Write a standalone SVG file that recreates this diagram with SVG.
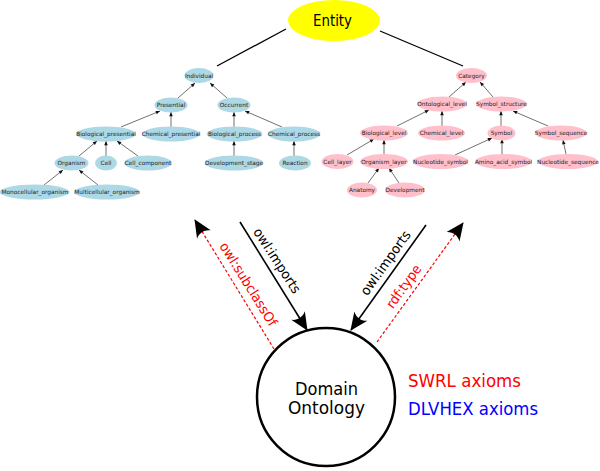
<svg xmlns="http://www.w3.org/2000/svg" width="600" height="471" viewBox="0 0 600 471">
<style>
.b{fill:#add8e6}
.p{fill:#ffc0cb}
.t{font-family:"DejaVu Sans","Liberation Sans",sans-serif;font-size:5.8px;fill:#222;text-anchor:middle}
.e{stroke:#333;stroke-width:0.7;fill:none;marker-end:url(#sm)}
.big{font-family:"DejaVu Sans","Liberation Sans",sans-serif;fill:#000}
.lbl{font-family:"DejaVu Sans","Liberation Sans",sans-serif;font-size:13.5px;text-anchor:middle;dominant-baseline:central}
</style>
<defs>
<marker id="sm" viewBox="-5 -3 6 6" refX="0" refY="0" markerWidth="6" markerHeight="6" markerUnits="userSpaceOnUse" orient="auto">
<path d="M0,0 L-4.2,-1.8 L-4.2,1.8 Z" fill="#111"/>
</marker>
<marker id="bg" viewBox="-20 -10 22 20" refX="0" refY="0" markerWidth="22" markerHeight="20" markerUnits="userSpaceOnUse" orient="auto">
<path d="M1,0 L-17,-8 C-13,-3 -13,3 -17,8 Z" fill="#000"/>
</marker>
</defs>

<g id="connectors">
<line x1="286" y1="29" x2="217" y2="66" stroke="#000" stroke-width="1.3"/>
<line x1="380" y1="31" x2="463" y2="66" stroke="#000" stroke-width="1.3"/>
<!-- left tree -->
<line class="e" x1="178" y1="98" x2="195" y2="83"/>
<line class="e" x1="227" y1="98" x2="210" y2="83"/>
<line class="e" x1="121" y1="127" x2="160" y2="111"/>
<line class="e" x1="171" y1="127" x2="171" y2="112"/>
<line class="e" x1="234" y1="127" x2="234" y2="112"/>
<line class="e" x1="282" y1="127" x2="245" y2="111"/>
<line class="e" x1="79" y1="156" x2="97" y2="141"/>
<line class="e" x1="106" y1="156" x2="106" y2="141"/>
<line class="e" x1="138" y1="156" x2="117" y2="141"/>
<line class="e" x1="234" y1="156" x2="234" y2="141"/>
<line class="e" x1="294" y1="156" x2="294" y2="141"/>
<line class="e" x1="44" y1="185" x2="63" y2="170"/>
<line class="e" x1="98" y1="185" x2="79" y2="170"/>
<!-- right tree -->
<line class="e" x1="449" y1="97" x2="466" y2="82"/>
<line class="e" x1="493" y1="97" x2="480" y2="82"/>
<line class="e" x1="397" y1="126" x2="429" y2="110"/>
<line class="e" x1="442" y1="126" x2="442" y2="111"/>
<line class="e" x1="501" y1="126" x2="501" y2="111"/>
<line class="e" x1="548" y1="126" x2="513" y2="111"/>
<line class="e" x1="347" y1="155" x2="374" y2="139"/>
<line class="e" x1="384" y1="154" x2="384" y2="140"/>
<line class="e" x1="455" y1="155" x2="492" y2="138"/>
<line class="e" x1="502" y1="154" x2="502" y2="139"/>
<line class="e" x1="566" y1="154" x2="563" y2="140"/>
<line class="e" x1="368" y1="183" x2="379" y2="168"/>
<line class="e" x1="399" y1="183" x2="389" y2="168"/>
<!-- bottom arrows -->
<line x1="274" y1="349" x2="195" y2="220" stroke="#f00" stroke-width="1.2" stroke-dasharray="3,2" marker-end="url(#bg)"/>
<line x1="377" y1="342" x2="463" y2="223" stroke="#f00" stroke-width="1.2" stroke-dasharray="3,2" marker-end="url(#bg)"/>
<line x1="240" y1="222" x2="307" y2="330" stroke="#000" stroke-width="1.6" marker-end="url(#bg)"/>
<line x1="426" y1="225" x2="351" y2="330" stroke="#000" stroke-width="1.6" marker-end="url(#bg)"/>
<text class="lbl" fill="#f00" transform="translate(248.7,284) rotate(58)" textLength="96" lengthAdjust="spacingAndGlyphs">owl:subclassOf</text>
<text class="lbl" fill="#000" transform="translate(277.4,260.4) rotate(57)" textLength="75" lengthAdjust="spacingAndGlyphs">owl:imports</text>
<text class="lbl" fill="#000" transform="translate(385.2,262.7) rotate(-54.5)" textLength="76" lengthAdjust="spacingAndGlyphs">owl:imports</text>
<text class="lbl" fill="#f00" transform="translate(403.4,286.3) rotate(-54.5)" textLength="50" lengthAdjust="spacingAndGlyphs">rdf:type</text>
</g>

<g id="entity">
<ellipse cx="334" cy="20.5" rx="46" ry="20.5" fill="#ffff00"/>
<text class="big" x="332.5" y="25.5" font-size="16" text-anchor="middle" textLength="39" lengthAdjust="spacingAndGlyphs">Entity</text>
</g>

<g id="individual"><ellipse class="b" cx="199" cy="75.5" rx="14.5" ry="7.5"/><text class="t" x="199" y="77.5">Individual</text></g>
<g id="presential"><ellipse class="b" cx="171" cy="105" rx="16.5" ry="7.5"/><text class="t" x="171" y="107">Presential</text></g>
<g id="occurrent"><ellipse class="b" cx="234" cy="105" rx="16.5" ry="7.5"/><text class="t" x="234" y="107">Occurrent</text></g>
<g id="biological_presential"><ellipse class="b" cx="106" cy="134" rx="30" ry="7.5"/><text class="t" x="106" y="136">Biological_presential</text></g>
<g id="chemical_presential"><ellipse class="b" cx="171" cy="134" rx="29" ry="7.5"/><text class="t" x="171" y="136">Chemical_presential</text></g>
<g id="biological_process"><ellipse class="b" cx="234.5" cy="134" rx="28" ry="7.5"/><text class="t" x="234.5" y="136">Biological_process</text></g>
<g id="chemical_process"><ellipse class="b" cx="294" cy="134" rx="26.5" ry="7.5"/><text class="t" x="294" y="136">Chemical_process</text></g>
<g id="organism"><ellipse class="b" cx="71.5" cy="163" rx="17" ry="7.5"/><text class="t" x="71.5" y="165">Organism</text></g>
<g id="cell"><ellipse class="b" cx="106" cy="163" rx="11" ry="7.5"/><text class="t" x="106" y="165">Cell</text></g>
<g id="cell_component"><ellipse class="b" cx="148" cy="163" rx="24" ry="7.5"/><text class="t" x="148" y="165">Cell_component</text></g>
<g id="development_stage"><ellipse class="b" cx="234" cy="163" rx="29.5" ry="7.5"/><text class="t" x="234" y="165">Development_stage</text></g>
<g id="reaction"><ellipse class="b" cx="295" cy="163" rx="16" ry="7.5"/><text class="t" x="295" y="165">Reaction</text></g>
<g id="monocellular_organism"><ellipse class="b" cx="34.5" cy="192" rx="35" ry="7.5"/><text class="t" x="35" y="194">Monocellular_organism</text></g>
<g id="multicellular_organism"><ellipse class="b" cx="107" cy="192" rx="33" ry="7.5"/><text class="t" x="107" y="194">Multicellular_organism</text></g>

<g id="category"><ellipse class="p" cx="471.5" cy="75.5" rx="15.5" ry="7.5"/><text class="t" x="471.5" y="77.5">Category</text></g>
<g id="ontological_level"><ellipse class="p" cx="442" cy="104" rx="25" ry="7.5"/><text class="t" x="442" y="106">Ontological_level</text></g>
<g id="symbol_structure"><ellipse class="p" cx="501.5" cy="104" rx="25.5" ry="7.5"/><text class="t" x="501.5" y="106">Symbol_structure</text></g>
<g id="biological_level"><ellipse class="p" cx="384" cy="133" rx="24" ry="7.5"/><text class="t" x="384" y="135">Biological_level</text></g>
<g id="chemical_level"><ellipse class="p" cx="441.5" cy="133" rx="23.5" ry="7.5"/><text class="t" x="441.5" y="135">Chemical_level</text></g>
<g id="symbol"><ellipse class="p" cx="501.5" cy="133" rx="14" ry="7.5"/><text class="t" x="501.5" y="135">Symbol</text></g>
<g id="symbol_sequence"><ellipse class="p" cx="561" cy="133" rx="26" ry="7.5"/><text class="t" x="561" y="135">Symbol_sequence</text></g>
<g id="cell_layer"><ellipse class="p" cx="337.5" cy="161.5" rx="16" ry="7.5"/><text class="t" x="337.5" y="163.5">Cell_layer</text></g>
<g id="organism_layer"><ellipse class="p" cx="384" cy="161.5" rx="24" ry="7.5"/><text class="t" x="384" y="163.5">Organism_layer</text></g>
<g id="nucleotide_symbol"><ellipse class="p" cx="440.5" cy="161.5" rx="28" ry="7.5"/><text class="t" x="440.5" y="163.5">Nucleotide_symbol</text></g>
<g id="amino_acid_symbol"><ellipse class="p" cx="503.5" cy="161.5" rx="28.5" ry="7.5"/><text class="t" x="503.5" y="163.5">Amino_acid_symbol</text></g>
<g id="nucleotide_sequence"><ellipse class="p" cx="568" cy="161.5" rx="30" ry="7.5"/><text class="t" x="568" y="163.5">Nucleotide_sequence</text></g>
<g id="anatomy"><ellipse class="p" cx="362" cy="190" rx="15" ry="7.5"/><text class="t" x="362" y="192">Anatomy</text></g>
<g id="development"><ellipse class="p" cx="405" cy="190" rx="20" ry="7.5"/><text class="t" x="405" y="192">Development</text></g>

<g id="domain_ontology">
<circle cx="326" cy="397" r="69" fill="#fff" stroke="#000" stroke-width="2.5"/>
<text class="big" x="326.5" y="394.5" font-size="17.5" text-anchor="middle" textLength="63" lengthAdjust="spacingAndGlyphs">Domain</text>
<text class="big" x="326.5" y="414" font-size="17.5" text-anchor="middle" textLength="77" lengthAdjust="spacingAndGlyphs">Ontology</text>
</g>
<g id="axioms">
<text class="big" x="408" y="387" font-size="18" style="fill:#f00" textLength="113" lengthAdjust="spacingAndGlyphs">SWRL axioms</text>
<text class="big" x="408" y="415" font-size="18" style="fill:#00f" textLength="130" lengthAdjust="spacingAndGlyphs">DLVHEX axioms</text>
</g>
</svg>
